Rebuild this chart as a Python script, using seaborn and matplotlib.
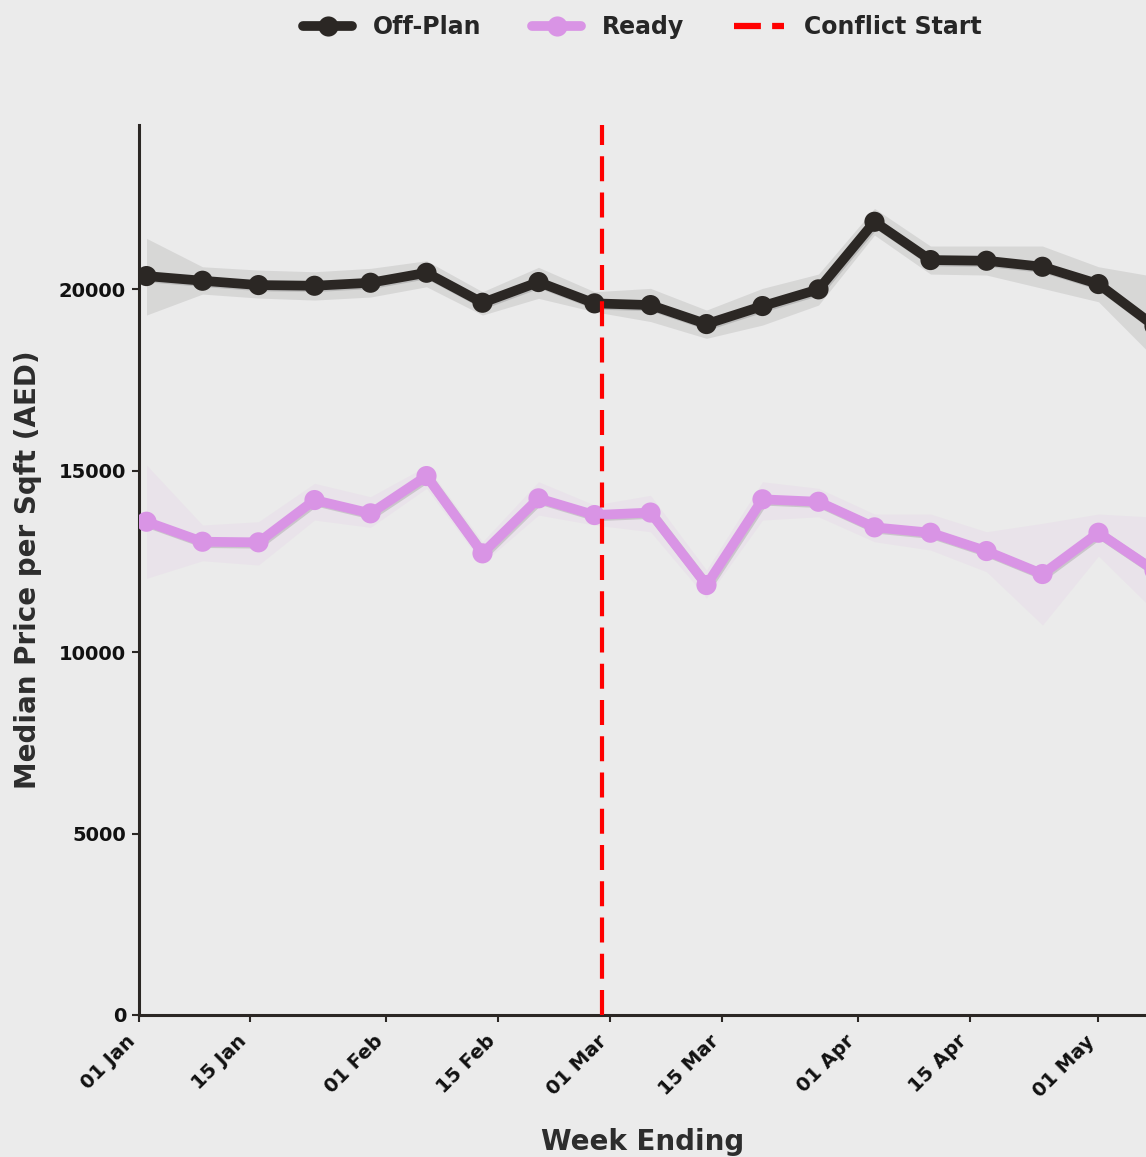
import matplotlib
matplotlib.use("Agg")
import numpy as np
import pandas as pd
import seaborn as sns
import matplotlib.pyplot as plt
import matplotlib.dates as mdates
import matplotlib.patheffects as pe
from matplotlib.lines import Line2D

# Weekly median price per sqft (AED), week-ending dates
weeks = pd.date_range("2026-01-02", periods=19, freq="7D")

offplan_median = [20358, 20229, 20110, 20091, 20174, 20449, 19623, 20193, 19606, 19559,
                  19036, 19532, 19992, 21854, 20799, 20780, 20614, 20138, 18981]
offplan_low = [19284, 19862, 19752, 19697, 19780, 20063, 19284, 19744, 19375, 19105,
               18642, 19008, 19559, 21488, 20413, 20386, 20019, 19650, 18099]
offplan_high = [21397, 20614, 20523, 20477, 20570, 20780, 19926, 20598, 19926, 20019,
                19421, 20019, 20413, 22223, 21185, 21185, 21185, 20614, 20347]

ready_median = [13590, 13039, 13022, 14187, 13821, 14848, 12719, 14234, 13774, 13843,
                11846, 14207, 14140, 13435, 13287, 12782, 12149, 13287, 12248]
ready_low = [12030, 12515, 12397, 13636, 13435, 14510, 12444, 13774, 13499, 13314,
             11488, 13636, 13727, 13039, 12810, 12212, 10744, 12645, 11124]
ready_high = [15152, 13499, 13590, 14647, 14278, 15124, 13039, 14691, 14050, 14317,
              12259, 14691, 14510, 13802, 13802, 13314, 13545, 13802, 13716]

conflict_start = pd.Timestamp("2026-02-28")

BG = "#ebebeb"
INK = "#2b2724"
OFFPLAN_C = "#2b2724"
READY_C = "#d994e5"

sns.set_theme(style="white")
plt.rcParams["font.family"] = ["DejaVu Sans"]

fig = plt.figure(figsize=(11.46, 11.57), dpi=100, facecolor=BG)
ax = fig.add_axes([138.5 / 1146, 142 / 1157, 1 - 138.5 / 1146, 890 / 1157])
ax.set_facecolor(BG)

df = pd.concat([
    pd.DataFrame({"week": weeks, "price": offplan_median, "segment": "Off-Plan"}),
    pd.DataFrame({"week": weeks, "price": ready_median, "segment": "Ready"}),
])

# uncertainty bands
ax.fill_between(weeks, offplan_low, offplan_high, color=OFFPLAN_C, alpha=0.1, lw=0, zorder=1)
ax.fill_between(weeks, ready_low, ready_high, color=READY_C, alpha=0.09, lw=0, zorder=1)

shadow = [pe.SimpleLineShadow(offset=(1, -1), alpha=0.15), pe.Normal()]
sns.lineplot(data=df, x="week", y="price", hue="segment",
             palette={"Off-Plan": OFFPLAN_C, "Ready": READY_C},
             marker="o", markersize=14.5, linewidth=7, markeredgewidth=0,
             errorbar=None, legend=False, ax=ax, zorder=3,
             path_effects=shadow)

ax.axvline(conflict_start, color="red", linewidth=3, linestyle=(0, (6, 2.7)), zorder=5)

# axes limits and ticks
ax.set_xlim(pd.Timestamp("2026-01-01"), pd.Timestamp("2026-01-01") + pd.Timedelta(days=125.94))
ax.set_ylim(0, 24520)
ax.set_yticks([0, 5000, 10000, 15000, 20000])
ax.xaxis.set_major_locator(mdates.DayLocator(bymonthday=[1, 15]))
ax.xaxis.set_major_formatter(mdates.DateFormatter("%d %b"))

ax.tick_params(axis="both", which="major", length=5, width=1.5, pad=4,
               color=INK, labelcolor="#111111", bottom=True, left=True)
ax.tick_params(axis="x", pad=7)
fig.canvas.draw()
plt.setp(ax.get_xticklabels(), rotation=45, ha="right", fontweight="bold",
         fontsize=14)
plt.setp(ax.get_yticklabels(), fontweight="bold", fontsize=14)

for side in ["top", "right"]:
    ax.spines[side].set_visible(False)
for side in ["left", "bottom"]:
    ax.spines[side].set_color(INK)
    ax.spines[side].set_linewidth(2.2)

ax.set_xlabel("Week Ending", fontsize=20, fontweight="bold", color="#2d2d2d", labelpad=20)
ax.set_ylabel("Median Price per Sqft (AED)", fontsize=20, fontweight="bold",
              color="#2d2d2d", labelpad=12)

handles = [
    Line2D([], [], color=OFFPLAN_C, lw=7, marker="o", markersize=14.5, markeredgewidth=0),
    Line2D([], [], color=READY_C, lw=7, marker="o", markersize=14.5, markeredgewidth=0),
    Line2D([], [], color="red", lw=4.5, linestyle=(0, (4.3, 1.8))),
]
ax.legend(handles, ["Off-Plan", "Ready", "Conflict Start"], loc="center",
          bbox_to_anchor=(0.5, 1.110), ncol=3, frameon=False,
          prop=dict(weight="bold", size=17), handlelength=2.1,
          handletextpad=0.85, columnspacing=2.15)

fig.savefig("out.png", dpi=100, facecolor=BG)
